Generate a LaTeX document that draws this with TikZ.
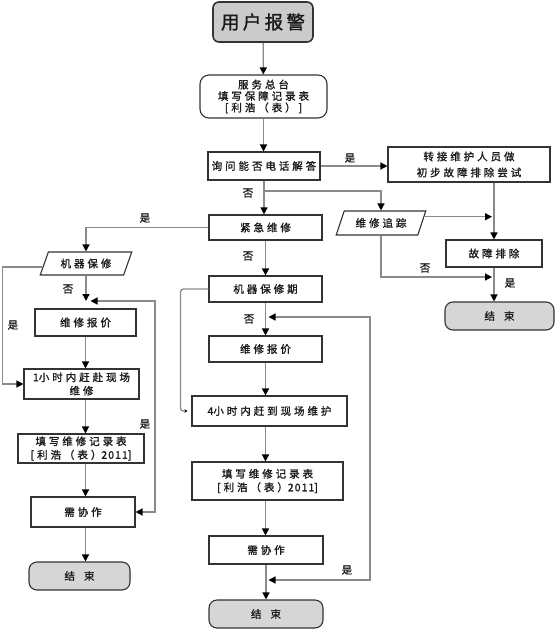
\documentclass[tikz,border=0pt]{standalone}
\usepackage{fontspec}
\setmainfont{Noto Sans CJK SC}
\newfontfamily\cjk[LetterSpace=28,FakeBold=1.3]{Noto Sans CJK SC}
\newfontfamily\cjkn[LetterSpace=10,FakeBold=1.3]{Noto Sans CJK SC}
\newfontfamily\cjkbig[LetterSpace=18,FakeBold=1.3]{Noto Sans CJK SC}
\usetikzlibrary{arrows.meta,shapes.geometric,calc}
\definecolor{boxc}{HTML}{333333}
\definecolor{linec}{HTML}{8A8A8A}
\definecolor{termc}{HTML}{D6D6D6}
\definecolor{txt}{HTML}{1A1A1A}
\tikzset{
  box/.style={draw=boxc, line width=1.1pt, fill=white, inner sep=1pt, align=center,
    font=\cjk\fontsize{10.5}{13.5}\selectfont, text=txt},
  term/.style={box, rounded corners=8pt, fill=termc},
  para/.style={box, trapezium, trapezium left angle=64, trapezium right angle=116,
    trapezium stretches=true},
  conn/.style={draw=linec, line width=1.3pt},
  tip/.tip={Triangle[length=7pt,width=7pt,color=black]},
  arr/.style={conn, -tip},
  dbl/.style={conn, tip-tip},
  lbl/.style={font=\cjk\fontsize{10.5}{12}\selectfont, text=txt, inner sep=0pt},
}
\begin{document}
\begin{tikzpicture}[x=1pt,y=-1pt]
\useasboundingbox (0,0) rectangle (555,629);
% main column
\node[term, line width=1.6pt, rounded corners=6pt, fill=termc!95!black, minimum width=100pt, minimum height=40pt,
  font=\cjkbig\fontsize{18.5}{20}\selectfont] (A) at (263,22) {用户报警};
\node[box, rounded corners=9pt, minimum width=127pt, minimum height=43pt,
  font=\cjk\fontsize{10.5}{11.5}\selectfont] (B) at (263.5,96.5) {服务总台\\填写保障记录表\\{[}利浩（表）{]}};
\node[box, minimum width=112pt, minimum height=28pt] (C) at (264,166) {询问能否电话解答};
\node[box, minimum width=113pt, minimum height=25pt] (D) at (265.5,227.5) {紧急维修};
\node[box, minimum width=113pt, minimum height=26pt] (E) at (265.5,289) {机器保修期};
\node[box, minimum width=113pt, minimum height=26pt] (F) at (265.5,349) {维修报价};
\node[box, minimum width=155pt, minimum height=30pt] (G) at (269.5,411) {{\cjkn 4}小时内赶到现场维护};
\node[box, minimum width=151pt, minimum height=38pt] (H) at (267.5,481) {填写维修记录表\\{[}利浩（表）{\cjkn 2011}{]}};
\node[box, minimum width=114pt, minimum height=28pt] (I) at (266,550) {需协作};
\node[term, minimum width=114pt, minimum height=28pt] (J) at (266,614) {结\hspace{9pt}束};
% right column
\node[box, minimum width=162pt, minimum height=35pt,
  font=\cjk\fontsize{10.5}{16}\selectfont] (K) at (469,164.5) {转接维护人员做\\初步故障排除尝试};
\node[para, minimum width=90pt, minimum height=24pt] (L) at (381,223) {维修追踪};
\node[box, minimum width=96pt, minimum height=27pt] (M) at (494,253.5) {故障排除};
\node[term, minimum width=109pt, minimum height=28pt] (N) at (499.5,316) {结\hspace{9pt}束};
% left column
\node[para, minimum width=92pt, minimum height=23pt] (O) at (86,263.5) {机器保修};
\node[box, minimum width=101pt, minimum height=27pt] (P) at (85.5,322.5) {维修报价};
\node[box, minimum width=115pt, minimum height=30pt] (Q) at (81.5,384) {{\cjkn 1}小时内赶赴现场\\维修};
\node[box, minimum width=126pt, minimum height=29pt] (R) at (81,448.5) {填写维修记录表\\{[}利浩（表）{\cjkn 2011}{]}};
\node[box, minimum width=104pt, minimum height=30pt] (S) at (83,512) {需协作};
\node[term, minimum width=101pt, minimum height=28pt] (T) at (79.5,576) {结\hspace{9pt}束};
% helper coordinates
\coordinate (br) at (264,191);
\coordinate (jl) at (85.5,301);
\coordinate (lr) at (155,301);
\coordinate (jm) at (265.5,317);
\coordinate (mr) at (370,317);
\coordinate (jb) at (265.5,580);
\coordinate (rj) at (494,277);
\coordinate (Lr) at ($(L.top right corner)!0.25!(L.bottom right corner)$);
\coordinate (Ol) at ($(O.top left corner)!0.65!(O.bottom left corner)$);
% main connectors
\draw[arr] (A) -- (B);
\draw[arr] (B.south) -- (B.south |- C.north);
\draw[arr] (C.east) -- (C.east -| K.west);
\draw[arr] (C.south) -- (C.south |- D.north);
\draw[arr] (br) -| (L.north);
\draw[arr] (D.south) -- (D.south |- E.north);
\draw[arr] (E.south) -- (E.south |- F.north);
\draw[arr] (F.south) -- (F.south |- G.north);
\draw[arr] (F.south |- G.south) -- (F.south |- H.north);
\draw[arr] (F.south |- H.south) -- (F.south |- I.north);
\draw[arr] (I.south) -- (I.south |- J.north);
\draw[dbl] ([xshift=3pt]jm) -- (mr) |- ([xshift=3pt]jb);
\draw[conn, -{Stealth[length=3pt,width=3.5pt,color=black]}, rounded corners=3pt]
  (E.west) -| ([xshift=-11pt]G.west) -- ([xshift=-4pt]G.west);
% right connectors
\draw[arr] (K.south -| M.north) -- (M.north);
\draw[arr] (Lr) -- ([xshift=-2pt]Lr -| M.north);
\draw[arr] (L.south) |- ([xshift=-2pt]rj);
\draw[arr] (M.south) -- (M.south |- N.north);
% left connectors
\draw[arr] (D.west) -| (O.north);
\draw[arr] (O.south) -- (O.south |- jl);
\draw[arr] (Ol) -| ([xshift=-21pt]Q.west) -- (Q.west);
\draw[dbl] ([xshift=5pt]jl) -- (lr) |- (S.east);
\draw[arr] (P.south) -- (P.south |- Q.north);
\draw[arr] (P.south |- Q.south) -- (P.south |- R.north);
\draw[arr] (P.south |- R.south) -- (P.south |- S.north);
\draw[arr] (P.south |- S.south) -- (P.south |- T.north);
% labels
\node[lbl] (l1) at (350,158) {是};
\node[lbl] (l2) at (248,193) {否};
\node[lbl] (l3) at (145,218) {是};
\node[lbl] (l4) at (248,256) {否};
\node[lbl] (l5) at (68,289) {否};
\node[lbl] (l6) at (13,325) {是};
\node[lbl] (l7) at (249,319) {否};
\node[lbl] (l8) at (145,424) {是};
\node[lbl] (l9) at (347,570) {是};
\node[lbl] (l10) at (425,268) {否};
\node[lbl] (l11) at (510,283) {是};
\end{tikzpicture}
\end{document}
